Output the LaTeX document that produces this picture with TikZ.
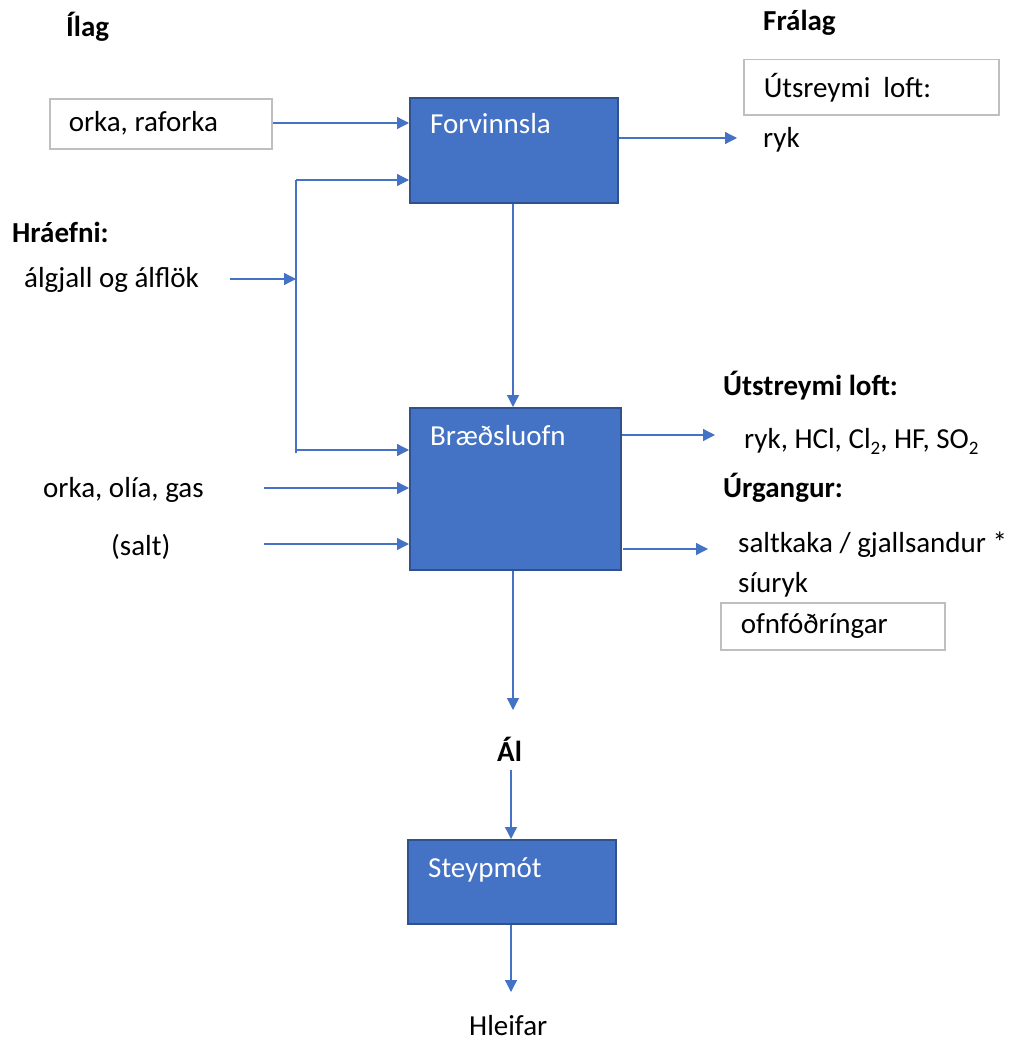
\documentclass[tikz,border=0pt]{standalone}
\usepackage{fontspec}
\setmainfont{Carlito}
\usetikzlibrary{arrows.meta,positioning,calc}
\definecolor{boxblue}{HTML}{4472C4}
\definecolor{boxedge}{HTML}{2F528F}
\definecolor{framegray}{HTML}{BFBFBF}
\newcommand{\diagfont}{\fontsize{29}{35}\selectfont}
\newcommand{\chemsub}[1]{\raisebox{-6pt}{\fontsize{19}{22}\selectfont #1}}
\tikzset{
  proc/.style={draw=boxedge, line width=2pt, fill=boxblue, anchor=north west, inner sep=0pt},
  proctext/.style={text=white, anchor=base west, inner sep=0pt},
  framebox/.style={draw=framegray, line width=1.5pt, anchor=north west, inner ysep=0pt, align=flush left},
  txt/.style={anchor=base west, inner sep=0pt},
  hd/.style={txt, font=\diagfont\bfseries},
  flow/.style={draw=boxblue, line width=1.3pt, -{Triangle[length=12pt,width=12pt]}},
  feed/.style={draw=boxblue, line width=1.3pt},
}
\begin{document}
\begin{tikzpicture}[x=1pt, y=-1pt, font=\diagfont]
  \useasboundingbox (0,0) rectangle (1015,1041);
  % prosessar
  \node[proc, minimum width=208, minimum height=105] (forv) at (409,97) {};
  \node[proctext] (forvlbl) at ($(forv.north west)+(21,36)$) {Forvinnsla};
  \node[proc, minimum width=211, minimum height=162] (braed) at (409,407) {};
  \node[proctext] (braedlbl) at ($(braed.north west)+(21,38)$) {Bræðsluofn};
  \node[proc, minimum width=208, minimum height=84] (steyp) at (407,839) {};
  \node[proctext] (steyplbl) at ($(steyp.north west)+(21,38)$) {Steypmót};
  % ilag
  \node[hd] (ilag) at (66,37) {Ílag};
  \node[framebox, inner xsep=19pt, text width=184pt, minimum height=50] (rafo) at (49,98) {orka, raforka};
  \node[hd] (hrae) at (12,242) {Hráefni:};
  \node[txt] (algj) at (24,287) {álgjall og álflök};
  \node[txt] (olia) at (43,497) {orka, olía, gas};
  \node[txt] (salt) at (111,555) {(salt)};
  % fralag
  \node[hd] (fral) at (763,31) {Frálag};
  \node[framebox, inner xsep=20pt, text width=215pt, minimum height=55] (utsr) at (743,59) {Útsreymi\ \ loft:};
  \node[txt] (ryk) at (763,147) {ryk};
  \node[hd] (utst) at (723,395) {Útstreymi loft:};
  \node[txt] (gas) at (744,448) {ryk, HCl, Cl\chemsub{2}, HF, SO\chemsub{2}};
  \node[hd] (urg) at (723,497) {Úrgangur:};
  \node[txt] (kaka) at (738,552) {saltkaka / gjallsandur *};
  \node[txt] (siur) at (738,592) {síuryk};
  \node[framebox, inner xsep=20pt, text width=184pt, minimum height=47] (ofnf) at (720,602) {ofnfóðríngar};
  \node[hd] (al) at (497,761) {Ál};
  \node[txt] (hleif) at (469,1035) {Hleifar};
  % orvar
  \coordinate (jtop) at (296,180);
  \coordinate (jmid) at (296,279);
  \coordinate (jbot) at (296,453);
  \draw[flow] (rafo.east |- 0,123) -- (forv.west |- 0,123);
  \draw[feed] (jbot) -- (jtop);
  \draw[flow] (jtop) -- (jtop -| forv.west);
  \draw[flow] (230,279) -- (jmid);
  \draw[flow] (296,450) -- (forv.west |- 0,450);
  \draw[flow] (264,488) -- (braed.west |- 0,488);
  \draw[flow] (264,544) -- (braed.west |- 0,544);
  \draw[flow] (forv.east |- 0,138) -- (737,138);
  \draw[flow] (513,0 |- forv.south) -- (513,0 |- braed.north);
  \draw[flow] (braed.east |- 0,435) -- (715,435);
  \draw[flow] (623,549) -- (708,549);
  \draw[flow] (513,0 |- braed.south) -- (513,710);
  \draw[flow] (511,770) -- (511,0 |- steyp.north);
  \draw[flow] (511,0 |- steyp.south) -- (511,992);
\end{tikzpicture}
\end{document}
